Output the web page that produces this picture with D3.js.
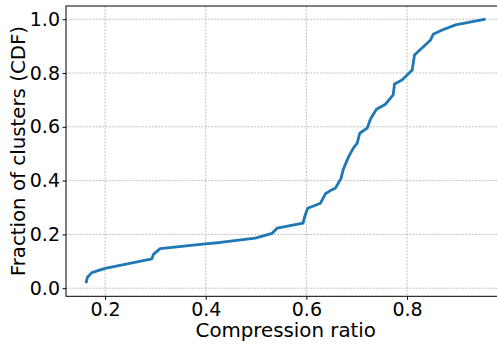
<!DOCTYPE html>
<html>
<head>
<meta charset="utf-8">
<script src="https://cdn.jsdelivr.net/npm/d3@7/dist/d3.min.js"></script>
<style>
  html, body { margin: 0; padding: 0; background: #fff; }
  svg { display: block; }
  text { font-family: "DejaVu Sans", sans-serif; fill: #000; }
</style>
</head>
<body>
<svg id="chart" width="497" height="345"></svg>
<script>
// Empirical CDF of per-cluster compression ratio
const ratio = [0.162, 0.165, 0.1735, 0.200, 0.293, 0.296, 0.3095, 0.399, 0.429, 0.4985,
  0.532, 0.5417, 0.5934, 0.5966, 0.6026, 0.628, 0.6378, 0.6478, 0.6577, 0.669,
  0.673, 0.684, 0.693, 0.701, 0.706, 0.7208, 0.7274, 0.7393, 0.7572, 0.7725,
  0.7751, 0.790, 0.8103, 0.8149, 0.8468, 0.852, 0.870, 0.8965, 0.956];
const fraction = [0.019, 0.041, 0.058, 0.074, 0.109, 0.126, 0.147, 0.165, 0.170, 0.186,
  0.204, 0.223, 0.242, 0.266, 0.297, 0.316, 0.351, 0.363, 0.372, 0.409,
  0.440, 0.489, 0.520, 0.539, 0.576, 0.595, 0.629, 0.665, 0.684, 0.7186,
  0.759, 0.774, 0.8115, 0.867, 0.923, 0.944, 0.960, 0.979, 1.000];
const xTicks = [0.2, 0.4, 0.6, 0.8];
const yTicks = [0.0, 0.2, 0.4, 0.6, 0.8, 1.0];

const svg = d3.select("#chart");
const plotLeft = 66, plotRight = 505.5, plotTop = 6, plotBottom = 296.3;

// 5% padding around the data extent on both axes
const xPad = (d3.max(ratio) - d3.min(ratio)) * 0.05;
const yPad = (d3.max(fraction) - d3.min(fraction)) * 0.05;
const x = d3.scaleLinear()
  .domain([d3.min(ratio) - xPad, d3.max(ratio) + xPad])
  .range([plotLeft, plotRight]);
const y = d3.scaleLinear()
  .domain([d3.min(fraction) - yPad, d3.max(fraction) + yPad])
  .range([plotBottom, plotTop]);

const tickFont = 19;
const labelFont = 19.8;

// grid
const grid = svg.append("g");
grid.selectAll(".gx").data(xTicks).enter().append("line")
  .attr("x1", d => x(d)).attr("x2", d => x(d))
  .attr("y1", plotTop).attr("y2", plotBottom)
  .attr("stroke", "#b0b0b0").attr("stroke-width", 0.8)
  .attr("stroke-dasharray", "2,1.3");
grid.selectAll(".gy").data(yTicks).enter().append("line")
  .attr("x1", plotLeft).attr("x2", plotRight)
  .attr("y1", d => y(d)).attr("y2", d => y(d))
  .attr("stroke", "#b0b0b0").attr("stroke-width", 0.8)
  .attr("stroke-dasharray", "2,1.3");

// CDF line
const pts = ratio.map((r, i) => [r, fraction[i]]);
svg.append("path")
  .datum(pts)
  .attr("fill", "none")
  .attr("stroke", "#1f77b4")
  .attr("stroke-width", 2.8)
  .attr("stroke-linejoin", "round")
  .attr("stroke-linecap", "butt")
  .attr("d", d3.line().x(d => x(d[0])).y(d => y(d[1])));

// axes
const xAxis = d3.axisBottom(x).tickValues(xTicks).tickFormat(d3.format(".1f"))
  .tickSize(3.5).tickPadding(3).tickSizeOuter(0);
const yAxis = d3.axisLeft(y).tickValues(yTicks).tickFormat(d3.format(".1f"))
  .tickSize(3.5).tickPadding(2.5).tickSizeOuter(0);

const gx = svg.append("g").attr("transform", `translate(0,${plotBottom})`).call(xAxis);
const gy = svg.append("g").attr("transform", `translate(${plotLeft},0)`).call(yAxis);
[gx, gy].forEach(g => {
  g.select(".domain").remove();
  g.selectAll(".tick line").attr("stroke", "#000").attr("stroke-width", 1);
  g.selectAll(".tick text").attr("font-size", tickFont)
    .attr("font-family", "DejaVu Sans, sans-serif").attr("fill", "#000");
});

// spines
svg.append("rect")
  .attr("x", plotLeft).attr("y", plotTop)
  .attr("width", plotRight - plotLeft).attr("height", plotBottom - plotTop)
  .attr("fill", "none").attr("stroke", "#000").attr("stroke-width", 1);

// axis titles
svg.append("text")
  .attr("x", (plotLeft + plotRight) / 2).attr("y", 337)
  .attr("text-anchor", "middle").attr("font-size", labelFont)
  .text("Compression ratio");
svg.append("text")
  .attr("transform", `translate(25,${(plotTop + plotBottom) / 2}) rotate(-90)`)
  .attr("text-anchor", "middle").attr("font-size", labelFont)
  .text("Fraction of clusters (CDF)");
</script>
</body>
</html>
